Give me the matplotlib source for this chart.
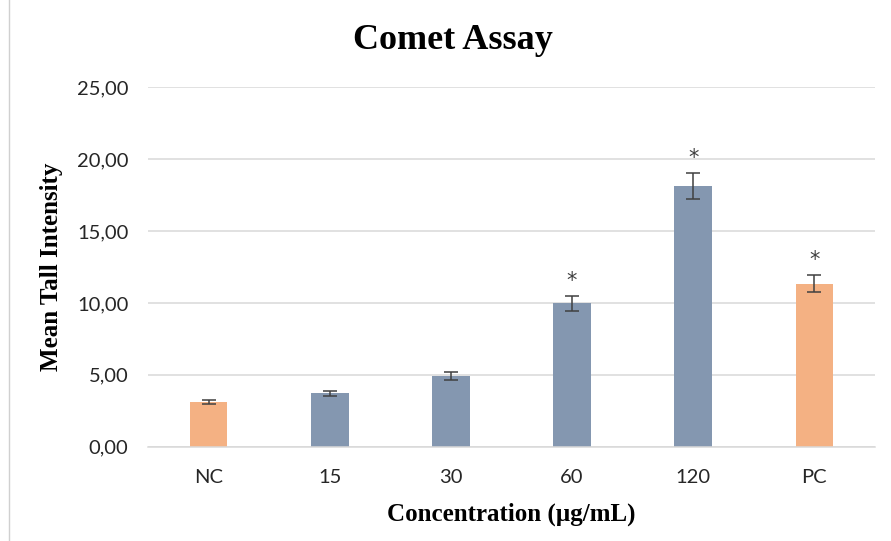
import matplotlib.pyplot as plt

# Comet assay results: mean tail intensity per concentration
groups = ['NC', '15', '30', '60', '120', 'PC']
means = [3.09, 3.71, 4.92, 9.98, 18.14, 11.34]
errors = [0.14, 0.20, 0.26, 0.52, 0.90, 0.60]
significant = [False, False, False, True, True, True]

orange = '#F4B183'
slate = '#8497B0'
colors = [orange, slate, slate, slate, slate, orange]

fig = plt.figure(figsize=(8.91, 5.41), dpi=100)
ax = fig.add_axes([0.1661, 0.1743, 0.8159, 0.6641])

x = range(len(groups))
ax.bar(x, means, width=0.31, color=colors, zorder=2)
ax.errorbar(x, means, yerr=errors, fmt='none', ecolor='#404040',
            elinewidth=1.1, capsize=5, capthick=1.1, zorder=3)

for i, (m, e, s) in enumerate(zip(means, errors, significant)):
    if s:
        ax.annotate('*', (i, m + e), xytext=(0, 11), textcoords='offset points',
                    ha='center', va='center', fontsize=15, color='#404040',
                    family='DejaVu Sans')

ax.set_xlim(-0.5, len(groups) - 0.5)
ax.set_ylim(0, 25)
ax.set_yticks([0, 5, 10, 15, 20, 25])
ax.set_yticklabels(['0,00', '5,00', '10,00', '15,00', '20,00', '25,00'])
ax.set_xticks(list(x))
ax.set_xticklabels(groups)
ax.tick_params(length=0, labelsize=14.5, labelcolor='#262626', pad=14)
ax.tick_params(axis='x', pad=16)
for lab in ax.get_xticklabels() + ax.get_yticklabels():
    lab.set_family('Lato')

ax.grid(axis='y', color='#D9D9D9', linewidth=1.1, zorder=0)
for side in ['top', 'right', 'left']:
    ax.spines[side].set_visible(False)
ax.spines['bottom'].set_color('#D9D9D9')
ax.spines['bottom'].set_linewidth(1.1)

ax.set_xlabel('Concentration (µg/mL)', family='Liberation Serif', weight='bold',
              fontsize=18, labelpad=12)
ax.set_ylabel('Mean Tall Intensity', family='Liberation Serif', weight='bold',
              fontsize=18, labelpad=10)
fig.text(0.508, 0.925, 'Comet Assay', ha='center', va='center',
         family='Liberation Serif', weight='bold', fontsize=26)

# thin frame line on the left edge
fig.add_artist(plt.Line2D([0.0105, 0.0105], [0, 1], color='#D0D0D0', lw=1))

fig.savefig('out.png', dpi=100)
